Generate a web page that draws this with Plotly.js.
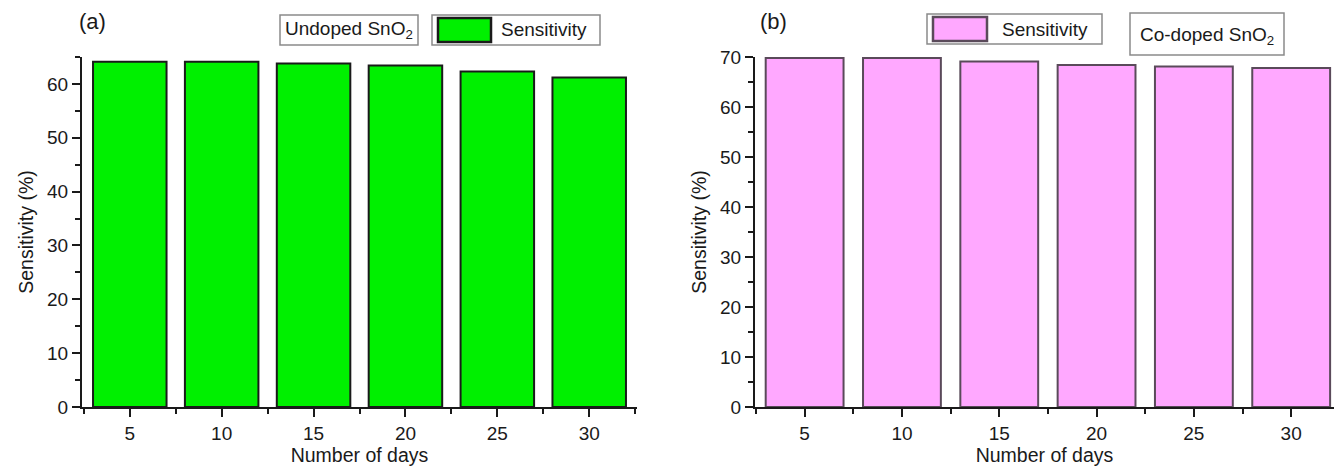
<!DOCTYPE html>
<html>
<head>
<meta charset="utf-8">
<script src="https://cdn.plot.ly/plotly-3.0.1.min.js"></script>
<style>html,body{margin:0;padding:0;background:#fff;}#chart{width:1334px;height:466px;}</style>
</head>
<body>
<div id="chart"></div>
<script>
const days = [5, 10, 15, 20, 25, 30];
const undopedSensitivity = [64.1, 64.1, 63.8, 63.4, 62.3, 61.2];
const codopedSensitivity = [69.8, 69.8, 69.1, 68.4, 68.1, 67.8];
const xTickLabels = ['5', '10', '15', '20', '25', '30'];
const seriesName = 'Sensitivity';
const panelLabels = ['(a)', '(b)'];
const sampleLabels = ['Undoped SnO<sub>2</sub>', 'Co-doped SnO<sub>2</sub>'];
const xTitle = 'Number of days';
const yTitle = 'Sensitivity (%)';

const W = 1334, H = 466;
const px = x => x / W;
const py = y => 1 - y / H;
const FONT = 'Liberation Sans, Arial, sans-serif';
const txt = '#1a1a1a';

const traces = [
  {type: 'bar', x: days, y: undopedSensitivity, name: seriesName, width: 4,
   marker: {color: '#00f000', line: {color: '#1a1a1a', width: 2}},
   xaxis: 'x', yaxis: 'y', showlegend: false},
  {type: 'bar', x: days, y: codopedSensitivity, name: seriesName, width: 4,
   marker: {color: '#ffa8ff', line: {color: '#5a4a5a', width: 2}},
   xaxis: 'x2', yaxis: 'y2', showlegend: false}
];

function xax(domain, range, anchor) {
  return {domain: domain, range: range, anchor: anchor,
    tickmode: 'array', tickvals: days, ticktext: xTickLabels,
    ticks: 'outside', ticklen: 8, tickwidth: 2, tickcolor: '#1a1a1a',
    minor: {dtick: 2.5, tick0: 0, ticks: 'outside', ticklen: 5, tickwidth: 2, tickcolor: '#1a1a1a', showgrid: false},
    showline: true, linecolor: '#1a1a1a', linewidth: 2,
    showgrid: false, zeroline: false, automargin: false,
    tickfont: {family: FONT, size: 19, color: txt},
    title: {text: xTitle, font: {family: FONT, size: 19.5, color: txt}, standoff: 3}};
}
function yax(domain, range, anchor) {
  return {domain: domain, range: range, anchor: anchor,
    dtick: 10, tick0: 0,
    ticks: 'outside', ticklen: 8, tickwidth: 2, tickcolor: '#1a1a1a',
    minor: {dtick: 5, tick0: 0, ticks: 'outside', ticklen: 5, tickwidth: 2, tickcolor: '#1a1a1a', showgrid: false},
    showline: true, linecolor: '#1a1a1a', linewidth: 2,
    showgrid: false, zeroline: false, automargin: false,
    tickfont: {family: FONT, size: 19, color: txt},
    title: {text: yTitle, font: {family: FONT, size: 19.5, color: txt}, standoff: 8}};
}

const ydom = [py(407), py(57)];
const layout = {
  width: W, height: H,
  margin: {l: 0, r: 0, t: 0, b: 0},
  paper_bgcolor: '#fff', plot_bgcolor: '#fff',
  showlegend: false, bargap: 0,
  xaxis: xax([px(82), px(637)], [2.4, 32.6], 'y'),
  yaxis: yax(ydom, [0, 65], 'x'),
  xaxis2: xax([px(755), 1], [2.45, 32.2], 'y2'),
  yaxis2: yax(ydom, [0, 70], 'x2'),
  shapes: [
    {type: 'rect', xref: 'paper', yref: 'paper', x0: px(280), x1: px(418), y0: py(45), y1: py(15), line: {color: '#8a8a8a', width: 1.5}, fillcolor: '#fff'},
    {type: 'rect', xref: 'paper', yref: 'paper', x0: px(432), x1: px(600), y0: py(45), y1: py(15), line: {color: '#8a8a8a', width: 1.5}, fillcolor: '#fff'},
    {type: 'rect', xref: 'paper', yref: 'paper', x0: px(438), x1: px(491), y0: py(42), y1: py(18), line: {color: '#1a1a1a', width: 2.5}, fillcolor: '#00f000'},
    {type: 'rect', xref: 'paper', yref: 'paper', x0: px(927), x1: px(1102), y0: py(44), y1: py(14), line: {color: '#8a8a8a', width: 1.5}, fillcolor: '#fff'},
    {type: 'rect', xref: 'paper', yref: 'paper', x0: px(933), x1: px(987), y0: py(41), y1: py(17), line: {color: '#5a4a5a', width: 2.5}, fillcolor: '#ffa8ff'},
    {type: 'rect', xref: 'paper', yref: 'paper', x0: px(1130), x1: px(1284), y0: py(55), y1: py(13), line: {color: '#8a8a8a', width: 1.5}, fillcolor: '#fff'}
  ],
  annotations: [
    {xref: 'paper', yref: 'paper', x: px(92), y: py(21), text: panelLabels[0], showarrow: false, xanchor: 'center', yanchor: 'middle', font: {family: FONT, size: 22, color: txt}},
    {xref: 'paper', yref: 'paper', x: px(773), y: py(21), text: panelLabels[1], showarrow: false, xanchor: 'center', yanchor: 'middle', font: {family: FONT, size: 22, color: txt}},
    {xref: 'paper', yref: 'paper', x: px(349), y: py(30), text: sampleLabels[0], showarrow: false, xanchor: 'center', yanchor: 'middle', font: {family: FONT, size: 19, color: txt}},
    {xref: 'paper', yref: 'paper', x: px(544), y: py(30), text: seriesName, showarrow: false, xanchor: 'center', yanchor: 'middle', font: {family: FONT, size: 19, color: txt}},
    {xref: 'paper', yref: 'paper', x: px(1045), y: py(29), text: seriesName, showarrow: false, xanchor: 'center', yanchor: 'middle', font: {family: FONT, size: 19, color: txt}},
    {xref: 'paper', yref: 'paper', x: px(1207), y: py(36), text: sampleLabels[1], showarrow: false, xanchor: 'center', yanchor: 'middle', font: {family: FONT, size: 19, color: txt}}
  ]
};

Plotly.newPlot('chart', traces, layout, {staticPlot: true, displayModeBar: false});
</script>
</body>
</html>
